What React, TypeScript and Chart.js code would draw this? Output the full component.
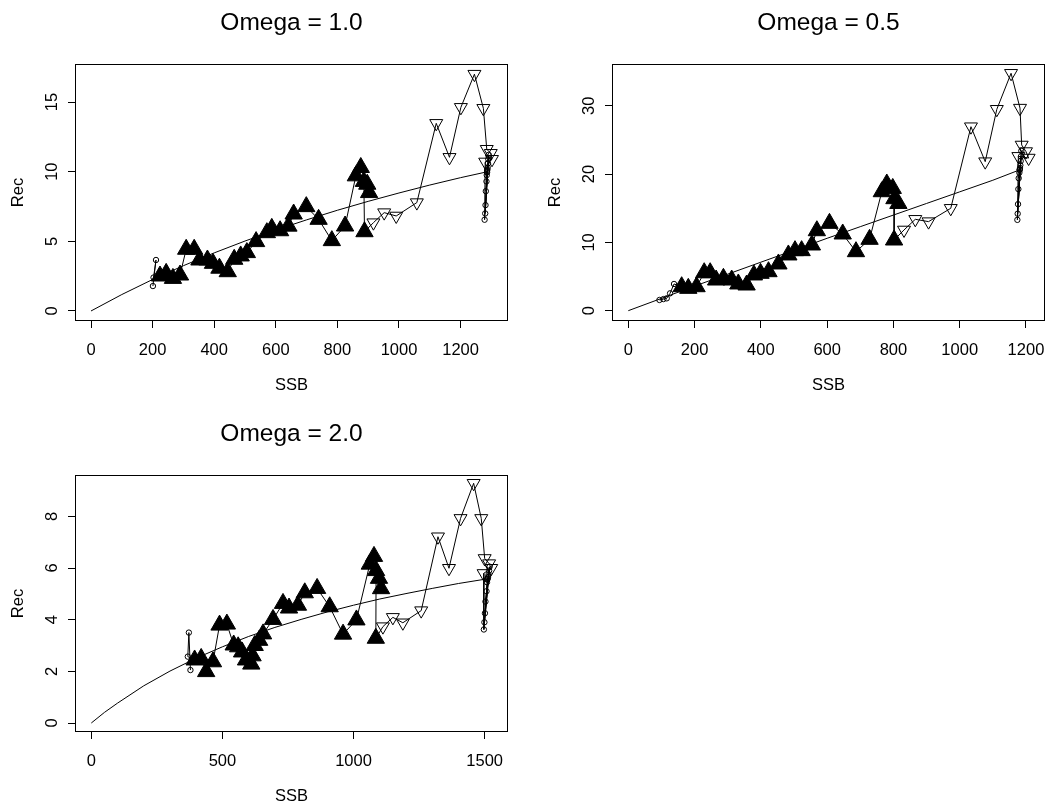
import React, { useEffect, useRef } from "react";
import { Chart, registerables } from "chart.js";

Chart.register(...registerables);

const FONT_FAMILY = "'Liberation Sans', Arial, Helvetica, sans-serif";

// ---------- Omega = 1.0 ----------
const xTicks10 = [0, 200, 400, 600, 800, 1000, 1200];
const yTicks10 = [0, 5, 10, 15];
const curveSsb10 = [0, 100, 200, 300, 400, 500, 600, 700, 800, 900, 1000, 1100, 1200, 1288];
const curveRec10 = [0, 1.18, 2.26, 3.25, 4.17, 5.02, 5.81, 6.54, 7.23, 7.87, 8.47, 9.04, 9.57, 10.0];
const startSsb10 = [201, 211, 203];
const startRec10 = [1.79, 3.66, 2.4];
const histSsb10 = [224, 244, 266, 289, 309, 335, 352, 378, 396, 417, 444, 465, 486, 506, 536, 571, 587, 614, 641, 658, 699, 739, 782, 825, 860, 876, 897, 903, 886, 888];
const histRec10 = [2.51, 2.7, 2.34, 2.58, 4.43, 4.43, 3.66, 3.66, 3.42, 3.07, 2.82, 3.71, 3.95, 4.19, 4.98, 5.62, 5.93, 5.76, 6.09, 6.96, 7.49, 6.58, 5.05, 6.1, 9.7, 10.3, 9.1, 8.5, 9.3, 5.69];
const projSsb10 = [917, 952, 991, 1058, 1121, 1164, 1201, 1245, 1274, 1285, 1298, 1302, 1280];
const projRec10 = [6.34, 7.06, 6.82, 7.78, 13.47, 11.03, 14.62, 17.0, 14.55, 11.61, 11.32, 10.89, 10.7];
const endSsb10 = [1278, 1291, 1280, 1290, 1281, 1289, 1282, 1288, 1284, 1287, 1285, 1286, 1286];
const endRec10 = [6.55, 11.2, 7.0, 10.9, 7.6, 10.6, 8.6, 10.3, 9.3, 10.15, 9.75, 10.05, 9.95];

// ---------- Omega = 0.5 ----------
const xTicks05 = [0, 200, 400, 600, 800, 1000, 1200];
const yTicks05 = [0, 10, 20, 30];
const curveSsb05 = [0, 100, 200, 300, 400, 500, 600, 700, 800, 900, 1000, 1100, 1180];
const curveRec05 = [0, 1.8, 3.6, 5.35, 7.1, 8.85, 10.6, 12.3, 14.0, 15.7, 17.4, 19.1, 20.6];
const startSsb05 = [94, 106, 116, 126, 138];
const startRec05 = [1.57, 1.7, 1.81, 2.54, 3.91];
const histSsb05 = [161, 181, 206, 229, 247, 265, 287, 312, 332, 357, 379, 399, 423, 453, 483, 503, 523, 554, 569, 607, 647, 687, 728, 765, 780, 798, 815, 803, 802];
const histRec05 = [3.51, 3.27, 3.51, 5.56, 5.56, 4.49, 4.74, 4.49, 3.91, 3.76, 5.23, 5.47, 5.71, 6.84, 8.16, 8.79, 8.79, 9.62, 11.71, 12.79, 11.23, 8.64, 10.45, 17.42, 18.55, 17.9, 15.7, 16.4, 10.35];
const projSsb05 = [832, 866, 906, 973, 1034, 1077, 1112, 1155, 1182, 1187, 1200, 1208, 1177];
const projRec05 = [11.82, 13.38, 13.04, 14.99, 26.94, 21.82, 29.49, 34.76, 29.66, 24.26, 23.3, 22.35, 22.6];
const endSsb05 = [1174, 1186, 1175, 1185, 1176, 1184, 1177, 1183, 1178, 1182, 1180, 1181, 1181];
const endRec05 = [13.3, 23.4, 14.2, 22.6, 15.6, 21.9, 17.8, 21.3, 19.4, 20.9, 20.2, 20.7, 20.6];

// ---------- Omega = 2.0 ----------
const xTicks20 = [0, 500, 1000, 1500];
const yTicks20 = [0, 2, 4, 6, 8];
const curveSsb20 = [0, 50, 100, 200, 300, 400, 500, 600, 700, 800, 900, 1000, 1100, 1200, 1300, 1400, 1510];
const curveRec20 = [0, 0.41, 0.77, 1.44, 2.01, 2.51, 2.95, 3.35, 3.7, 4.01, 4.3, 4.56, 4.8, 5.01, 5.21, 5.4, 5.58];
const startSsb20 = [378, 372, 368];
const startRec20 = [2.05, 3.5, 2.57];
const histSsb20 = [394, 419, 438, 464, 489, 517, 543, 560, 575, 590, 610, 615, 623, 640, 655, 693, 731, 754, 788, 814, 861, 909, 960, 1011, 1062, 1078, 1097, 1105, 1086, 1085];
const histRec20 = [2.44, 2.5, 1.99, 2.37, 3.79, 3.83, 3.02, 2.95, 2.75, 2.44, 2.28, 2.6, 3.0, 3.2, 3.45, 4.01, 4.63, 4.45, 4.56, 5.04, 5.21, 4.5, 3.44, 3.99, 6.15, 6.45, 5.6, 5.2, 5.9, 3.28];
const projSsb20 = [1112, 1150, 1188, 1258, 1322, 1364, 1408, 1458, 1487, 1500, 1517, 1525, 1496];
const projRec20 = [3.73, 4.09, 3.88, 4.35, 7.21, 5.99, 7.92, 9.28, 7.92, 6.37, 6.17, 5.99, 5.79];
const endSsb20 = [1497, 1519, 1499, 1517, 1501, 1515, 1503, 1513, 1507, 1511, 1509, 1510, 1510];
const endRec20 = [3.62, 6.05, 3.9, 5.9, 4.25, 5.75, 4.7, 5.65, 5.1, 5.6, 5.45, 5.56, 5.55];

const CANVAS_H = 401;

type PanelSpec = {
  title: string;
  left: number;
  top: number;
  width: number;
  plotLeft: number;
  plotRight: number;
  plotBottom: number;
  xMin: number;
  xMax: number;
  yMin: number;
  yMax: number;
  xTicks: number[];
  yTicks: number[];
  yTickPad: number;
  yTitlePad: number;
  curveSsb: number[];
  curveRec: number[];
  startSsb: number[];
  startRec: number[];
  histSsb: number[];
  histRec: number[];
  projSsb: number[];
  projRec: number[];
  endSsb: number[];
  endRec: number[];
};

const panels: PanelSpec[] = [
  {
    title: "Omega = 1.0",
    left: 0, top: 0, width: 524,
    plotLeft: 75, plotRight: 508, plotBottom: 321,
    xMin: -52, xMax: 1354, yMin: -0.72, yMax: 17.73,
    xTicks: xTicks10, yTicks: yTicks10, yTickPad: 6.8, yTitlePad: 8.9,
    curveSsb: curveSsb10, curveRec: curveRec10,
    startSsb: startSsb10, startRec: startRec10,
    histSsb: histSsb10, histRec: histRec10,
    projSsb: projSsb10, projRec: projRec10,
    endSsb: endSsb10, endRec: endRec10,
  },
  {
    title: "Omega = 0.5",
    left: 524, top: 0, width: 560,
    plotLeft: 88, plotRight: 521, plotBottom: 321,
    xMin: -49.2, xMax: 1257.4, yMin: -1.51, yMax: 36.12,
    xTicks: xTicks05, yTicks: yTicks05, yTickPad: 6.8, yTitlePad: 21.9,
    curveSsb: curveSsb05, curveRec: curveRec05,
    startSsb: startSsb05, startRec: startRec05,
    histSsb: histSsb05, histRec: histRec05,
    projSsb: projSsb05, projRec: projRec05,
    endSsb: endSsb05, endRec: endRec05,
  },
  {
    title: "Omega = 2.0",
    left: 0, top: 411, width: 524,
    plotLeft: 75, plotRight: 508, plotBottom: 321,
    xMin: -62.2, xMax: 1589, yMin: -0.348, yMax: 9.6,
    xTicks: xTicks20, yTicks: yTicks20, yTickPad: 11.4, yTitlePad: 8.9,
    curveSsb: curveSsb20, curveRec: curveRec20,
    startSsb: startSsb20, startRec: startRec20,
    histSsb: histSsb20, histRec: histRec20,
    projSsb: projSsb20, projRec: projRec20,
    endSsb: endSsb20, endRec: endRec20,
  },
];

const toPoints = (xs: number[], ys: number[]) => xs.map((x, i) => ({ x, y: ys[i] }));

// Frame around the plotting region
const plotFrame = {
  id: "plotFrame",
  afterDatasetsDraw(chart: any) {
    const { ctx, chartArea: a } = chart;
    ctx.save();
    ctx.strokeStyle = "#000";
    ctx.lineWidth = 1;
    ctx.strokeRect(
      Math.round(a.left) + 0.5,
      Math.round(a.top) + 0.5,
      Math.round(a.right - a.left) - 1,
      Math.round(a.bottom - a.top) - 1
    );
    ctx.restore();
  },
};

function buildConfig(s: PanelSpec): any {
  const start = toPoints(s.startSsb, s.startRec);
  const hist = toPoints(s.histSsb, s.histRec);
  const proj = toPoints(s.projSsb, s.projRec);
  const end = toPoints(s.endSsb, s.endRec);
  const path = [...start, ...hist, ...proj, ...end];
  const curve = toPoints(s.curveSsb, s.curveRec);
  const tickFont = { family: FONT_FAMILY, size: 16.5, weight: "normal" as const };
  const smallCircle = {
    pointStyle: "circle",
    pointRadius: 2.7,
    pointBackgroundColor: "rgba(0,0,0,0)",
    pointBorderColor: "#000",
    pointBorderWidth: 1,
    showLine: false,
  };

  return {
    type: "scatter",
    data: {
      datasets: [
        { data: end, ...smallCircle },
        {
          data: proj,
          pointStyle: "triangle",
          pointRotation: 180,
          pointRadius: 7.5,
          pointBackgroundColor: "rgba(0,0,0,0)",
          pointBorderColor: "#000",
          pointBorderWidth: 1,
          showLine: false,
        },
        {
          data: hist,
          pointStyle: "triangle",
          pointRadius: 10,
          pointBackgroundColor: "#000",
          pointBorderColor: "#000",
          pointBorderWidth: 1,
          showLine: false,
        },
        { data: start, ...smallCircle },
        {
          data: path,
          showLine: true,
          borderColor: "#000",
          borderWidth: 1,
          pointRadius: 0,
          tension: 0,
        },
        {
          data: curve,
          showLine: true,
          borderColor: "#000",
          borderWidth: 1,
          pointRadius: 0,
          tension: 0,
        },
      ],
    },
    options: {
      responsive: false,
      animation: false,
      devicePixelRatio: 1,
      events: [],
      layout: { padding: { left: 0, top: 0, right: s.width - s.plotRight, bottom: 0 } },
      plugins: {
        legend: { display: false },
        tooltip: { enabled: false },
        title: {
          display: true,
          text: s.title,
          fullSize: false,
          color: "#000",
          font: { family: FONT_FAMILY, size: 24.5, weight: "normal" },
          padding: { top: 8.5, bottom: 26.1 },
        },
      },
      scales: {
        x: {
          type: "linear",
          position: "bottom",
          min: s.xMin,
          max: s.xMax,
          afterBuildTicks: (sc: any) => {
            sc.ticks = s.xTicks.map((v) => ({ value: v }));
          },
          afterFit: (sc: any) => {
            sc.height = CANVAS_H - s.plotBottom;
          },
          grid: {
            display: true,
            drawOnChartArea: false,
            drawTicks: true,
            tickLength: 7,
            color: "#000",
            lineWidth: 1,
          },
          border: { display: false },
          ticks: {
            color: "#000",
            font: tickFont,
            padding: 13,
            maxRotation: 0,
            minRotation: 0,
            autoSkip: false,
            callback: (v: any) => String(v),
          },
          title: {
            display: true,
            text: "SSB",
            color: "#000",
            font: tickFont,
            padding: { top: 0, bottom: 5.8 },
          },
        },
        y: {
          type: "linear",
          position: "left",
          min: s.yMin,
          max: s.yMax,
          afterBuildTicks: (sc: any) => {
            sc.ticks = s.yTicks.map((v) => ({ value: v }));
          },
          afterFit: (sc: any) => {
            sc.width = s.plotLeft;
          },
          grid: {
            display: true,
            drawOnChartArea: false,
            drawTicks: true,
            tickLength: 7,
            color: "#000",
            lineWidth: 1,
          },
          border: { display: false },
          ticks: {
            color: "#000",
            font: tickFont,
            padding: s.yTickPad,
            minRotation: 90,
            maxRotation: 90,
            crossAlign: "center",
            autoSkip: false,
            callback: (v: any) => String(v),
          },
          title: {
            display: true,
            text: "Rec",
            color: "#000",
            font: tickFont,
            padding: { top: s.yTitlePad, bottom: 0 },
          },
        },
      },
    },
    plugins: [plotFrame],
  };
}

function Panel({ spec }: { spec: PanelSpec }) {
  const ref = useRef<HTMLCanvasElement | null>(null);
  useEffect(() => {
    if (!ref.current) return;
    const chart = new Chart(ref.current, buildConfig(spec));
    return () => chart.destroy();
  }, [spec]);
  return (
    <canvas
      ref={ref}
      width={spec.width}
      height={CANVAS_H}
      style={{
        position: "absolute",
        left: spec.left,
        top: spec.top,
        width: spec.width,
        height: CANVAS_H,
      }}
    />
  );
}

export default function App() {
  return (
    <div
      style={{
        position: "absolute",
        left: 0,
        top: 0,
        width: 1048,
        height: 803,
        overflow: "hidden",
        background: "#fff",
      }}
    >
      {panels.map((p) => (
        <Panel key={p.title} spec={p} />
      ))}
    </div>
  );
}
